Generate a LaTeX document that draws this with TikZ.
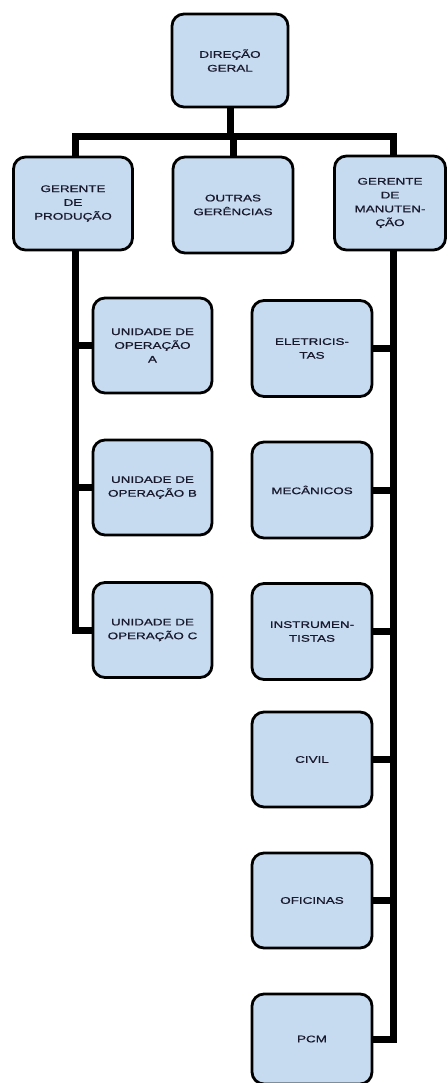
\documentclass[tikz,border=0pt]{standalone}
\usepackage{fontspec}
\newfontfamily\boxfont[FakeStretch=1.4,FakeBold=0.8]{Liberation Sans}
\definecolor{boxfill}{RGB}{198,218,240}
\definecolor{boxtext}{RGB}{25,25,45}
\begin{document}
\begin{tikzpicture}[x=1pt,y=-1pt,
  orgbox/.style={draw=black, line width=2.8pt, rounded corners=12pt, fill=boxfill,
    minimum width=#1, inner sep=2pt, align=center, text=boxtext,
    font=\boxfont\fontsize{9.6}{13.8}\selectfont},
  orgbox/.default=119pt,
  link/.style={line width=7pt, draw=black}]
\useasboundingbox (0,0) rectangle (447,1083);
\coordinate (bar) at (232,137);
\coordinate (lv) at (75,0);
\coordinate (rv) at (393,0);
% nodes
\node[orgbox=116pt, minimum height=93pt] (dg) at (230,60.5) {DIREÇÃO\\GERAL};
\node[orgbox=119pt, minimum height=93pt] (gp) at (73,203.5) {GERENTE\\DE\\PRODUÇÃO};
\node[orgbox=120pt, minimum height=96pt] (og) at (233,205) {OUTRAS\\GERÊNCIAS};
\node[orgbox=111pt, minimum height=94pt] (gm) at (390,203) {GERENTE\\DE\\MANUTEN-\\ÇÃO};
\node[orgbox=119pt, minimum height=95pt] (ua) at (152.5,345.5) {UNIDADE DE\\OPERAÇÃO\\A};
\node[orgbox=119pt, minimum height=95pt] (ub) at (152.5,487.5) {UNIDADE DE\\OPERAÇÃO B};
\node[orgbox=119pt, minimum height=95pt] (uc) at (152.5,630) {UNIDADE DE\\OPERAÇÃO C};
\node[orgbox=120pt, minimum height=96pt] (el) at (312,348.5) {ELETRICIS-\\TAS};
\node[orgbox=120pt, minimum height=96pt] (me) at (312,490) {MECÂNICOS};
\node[orgbox=120pt, minimum height=96pt] (in) at (312,631.5) {INSTRUMEN-\\TISTAS};
\node[orgbox=120pt, minimum height=95pt] (ci) at (312,759.5) {CIVIL};
\node[orgbox=120pt, minimum height=95pt] (of) at (312,900.5) {OFICINAS};
\node[orgbox=120pt, minimum height=90pt] (pcm) at (312,1039) {PCM};
% links
\draw[link] (dg.south) -- (dg.south |- bar);
\draw[link, line cap=rect] (lv |- bar) -- (rv |- bar);
\draw[link] (og.north |- bar) -- (og.north);
\draw[link] (lv |- bar) -- (lv |- gp.north);
\draw[link] (rv |- bar) -- (rv |- gm.north);
\draw[link] (lv |- gp.south) -- (lv |- uc.west) -- (uc.west);
\draw[link] (lv |- ua.west) -- (ua.west);
\draw[link] (lv |- ub.west) -- (ub.west);
\draw[link] (rv |- gm.south) -- (rv |- pcm.east) -- (pcm.east);
\draw[link] (rv |- el.east) -- (el.east);
\draw[link] (rv |- me.east) -- (me.east);
\draw[link] (rv |- in.east) -- (in.east);
\draw[link] (rv |- ci.east) -- (ci.east);
\draw[link] (rv |- of.east) -- (of.east);
\end{tikzpicture}
\end{document}
